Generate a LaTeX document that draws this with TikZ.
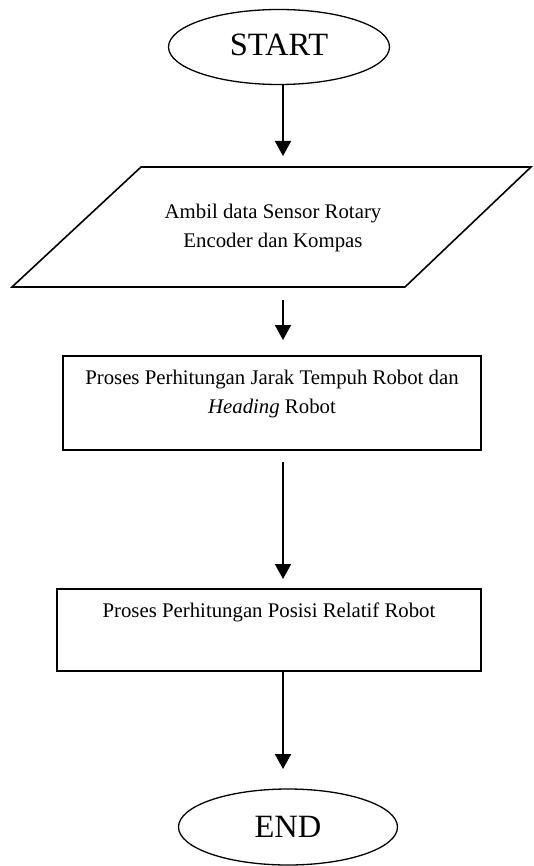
\documentclass[tikz,border=0pt]{standalone}
\usepackage{fontspec}
\setmainfont{Liberation Serif}
\usetikzlibrary{arrows.meta,shapes.geometric}
\begin{document}
\begin{tikzpicture}[x=1pt,y=-1pt,
  terminal/.style={draw,ellipse,line width=1.3pt,minimum width=221pt,minimum height=75pt,inner sep=0pt},
  procbox/.style={draw,rectangle,line width=1.6pt,inner sep=0pt},
  label/.style={inner sep=0pt,align=center,font=\fontsize{20.8}{29}\selectfont},
  termtext/.style={inner sep=0pt,font=\fontsize{32.5}{32.5}\selectfont},
  flow/.style={line width=1.8pt,-{Triangle[width=16pt,length=15pt]}}
]
\useasboundingbox (0,0) rectangle (533,866);

% terminals
\node[terminal] (start) at (279,47) {};
\node[termtext] (starttxt) at (279,45) {START};

% input parallelogram
\coordinate (pTL) at (141,167);
\coordinate (pTR) at (531,167);
\coordinate (pBR) at (405,287);
\coordinate (pBL) at (12,287);
\draw[line width=1.6pt] (pTL) -- (pTR) -- (pBR) -- (pBL) -- cycle;
\node[label] (input) at (273,228) {Ambil data Sensor Rotary\\Encoder dan Kompas};

% process boxes
\node[procbox,minimum width=418pt,minimum height=94pt] (proc1) at (272,403) {};
\node[label] (proc1txt) at (272,394) {Proses Perhitungan Jarak Tempuh Robot dan\\\textit{Heading} Robot};

\node[procbox,minimum width=424pt,minimum height=82pt] (proc2) at (269,630) {};
\node[label] (proc2txt) at (269,612) {Proses Perhitungan Posisi Relatif Robot};

\node[terminal,minimum width=219pt,minimum height=76pt] (end) at (288,827) {};
\node[termtext] (endtxt) at (288,827) {END};

% connector end points
\coordinate (a1s) at (283,85);  \coordinate (a1e) at (283,156);
\coordinate (a2s) at (283,300); \coordinate (a2e) at (283,340);
\coordinate (a3s) at (283,462); \coordinate (a3e) at (283,579);
\coordinate (a4e) at (283,769);

\draw[flow] (a1s) -- (a1e);
\draw[flow] (a2s) -- (a2e);
\draw[flow] (a3s) -- (a3e);
\draw[flow] (proc2.south -| a4e) -- (a4e);
\end{tikzpicture}
\end{document}
